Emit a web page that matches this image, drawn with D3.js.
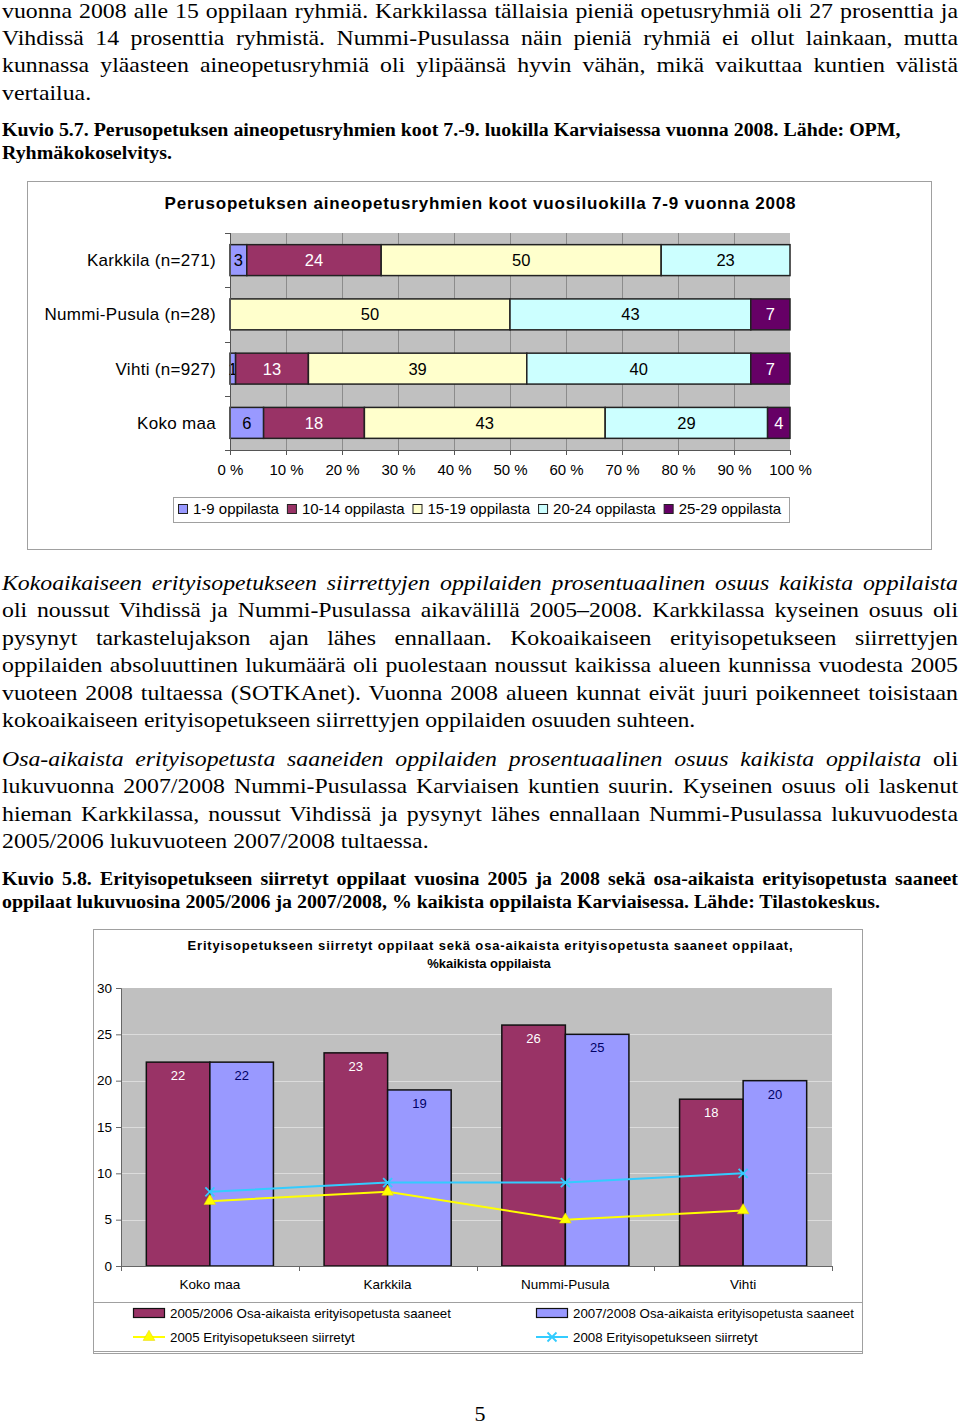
<!DOCTYPE html>
<html>
<head>
<meta charset="utf-8">
<script src="https://cdn.jsdelivr.net/npm/d3@7"></script>
<style>
  body { margin: 0; background: #fff; }
  svg { display: block; }
</style>
</head>
<body>
<div id="page"></div>
<script>
// chart 1 data: group sizes, % of groups
var cats1 = ["Karkkila (n=271)", "Nummi-Pusula (n=28)", "Vihti (n=927)", "Koko maa"];
var groups1 = ["1-9 oppilasta", "10-14 oppilasta", "15-19 oppilasta", "20-24 oppilasta", "25-29 oppilasta"];
var g1_9   = [3, 0, 1, 6];
var g10_14 = [24, 0, 13, 18];
var g15_19 = [50, 50, 39, 43];
var g20_24 = [23, 43, 40, 29];
var g25_29 = [0, 7, 7, 4];
var xTicks1 = [0, 10, 20, 30, 40, 50, 60, 70, 80, 90, 100];

// chart 2 data
var cats2 = ["Koko maa", "Karkkila", "Nummi-Pusula", "Vihti"];
var barSeries2 = ["2005/2006 Osa-aikaista erityisopetusta saaneet", "2007/2008 Osa-aikaista erityisopetusta saaneet"];
var osa0506 = [22, 23, 26, 18];
var osa0708 = [22, 19, 25, 20];
var lineSeries2 = ["2005 Erityisopetukseen siirretyt", "2008 Erityisopetukseen siirretyt"];
var siir2005 = [7, 8, 5, 6];
var siir2008 = [8, 9, 9, 10];
var yTicks2 = [0, 5, 10, 15, 20, 25, 30];

var serif = "'Liberation Serif', 'Times New Roman', serif";
var sans = "'Liberation Sans', Arial, sans-serif";

var svg = d3.select("#page").append("svg")
    .attr("width", 960)
    .attr("height", 1425);

svg.append("rect").attr("width", 960).attr("height", 1425).attr("fill", "#fff");

// justified text line helper (page text is a bit wider than plain Times)
function textLine(y, parts, opts) {
  opts = opts || {};
  var sx = opts.sx || 1.107;
  var g = svg.append("g")
      .attr("transform", "translate(2," + y + ") scale(" + sx + ",1)");
  var t = g.append("text")
      .attr("x", 0)
      .attr("y", 0)
      .attr("font-family", serif)
      .attr("font-size", opts.size || 21.5)
      .attr("font-weight", opts.bold ? "bold" : null)
      .attr("fill", "#000");
  parts.forEach(function(p) {
    t.append("tspan")
      .attr("font-style", p.italic ? "italic" : null)
      .text(p.t);
  });
  if (opts.justify) {
    var w = t.node().getComputedTextLength();
    var full = parts.map(function(p) { return p.t; }).join("");
    var n = (full.match(/ /g) || []).length;
    if (n > 0) t.attr("word-spacing", (956 / sx - w) / n);
  }
  return t;
}

function para(lines, y0, step, opts) {
  lines.forEach(function(l, i) {
    var parts = typeof l === "string" ? [{t: l}] : l;
    var o = Object.assign({}, opts, {justify: i < lines.length - 1 && !(opts && opts.noJustify)});
    textLine(y0 + i * step, parts, o);
  });
}

para([
  "vuonna 2008 alle 15 oppilaan ryhmiä. Karkkilassa tällaisia pieniä opetusryhmiä oli 27 prosenttia ja",
  "Vihdissä 14 prosenttia ryhmistä. Nummi-Pusulassa näin pieniä ryhmiä ei ollut lainkaan, mutta",
  "kunnassa yläasteen aineopetusryhmiä oli ylipäänsä hyvin vähän, mikä vaikuttaa kuntien välistä",
  "vertailua."
], 18, 27.2);

para([
  "Kuvio 5.7. Perusopetuksen aineopetusryhmien koot 7.-9. luokilla Karviaisessa vuonna 2008. Lähde: OPM,",
  "Ryhmäkokoselvitys."
], 136, 23, {size: 19, bold: true, sx: 1.047, noJustify: true});

para([
  [{t: "Kokoaikaiseen erityisopetukseen siirrettyjen oppilaiden prosentuaalinen osuus kaikista oppilaista", italic: true}],
  "oli noussut Vihdissä ja Nummi-Pusulassa aikavälillä 2005–2008. Karkkilassa kyseinen osuus oli",
  "pysynyt tarkastelujakson ajan lähes ennallaan. Kokoaikaiseen erityisopetukseen siirrettyjen",
  "oppilaiden absoluuttinen lukumäärä oli puolestaan noussut kaikissa alueen kunnissa vuodesta 2005",
  "vuoteen 2008 tultaessa (SOTKAnet). Vuonna 2008 alueen kunnat eivät juuri poikenneet toisistaan",
  "kokoaikaiseen erityisopetukseen siirrettyjen oppilaiden osuuden suhteen."
], 590, 27.4);

para([
  [{t: "Osa-aikaista erityisopetusta saaneiden oppilaiden prosentuaalinen osuus kaikista oppilaista", italic: true}, {t: " oli"}],
  "lukuvuonna 2007/2008 Nummi-Pusulassa Karviaisen kuntien suurin. Kyseinen osuus oli laskenut",
  "hieman Karkkilassa, noussut Vihdissä ja pysynyt lähes ennallaan Nummi-Pusulassa lukuvuodesta",
  "2005/2006 lukuvuoteen 2007/2008 tultaessa."
], 766, 27.4);

para([
  "Kuvio 5.8. Erityisopetukseen siirretyt oppilaat vuosina 2005 ja 2008 sekä osa-aikaista erityisopetusta saaneet",
  "oppilaat lukuvuosina 2005/2006 ja 2007/2008, % kaikista oppilaista Karviaisessa. Lähde: Tilastokeskus."
], 885, 22.5, {size: 19, bold: true, sx: 1.047});

svg.append("text")
    .attr("x", 480).attr("y", 1421)
    .attr("text-anchor", "middle")
    .attr("font-family", serif).attr("font-size", 22)
    .text("5");

// ---------------- chart 1 ----------------
var c1 = svg.append("g");

c1.append("rect")
    .attr("x", 27.5).attr("y", 181.5)
    .attr("width", 904).attr("height", 368)
    .attr("fill", "#fff").attr("stroke", "#a0a0a0");

c1.append("text")
    .attr("x", 480).attr("y", 209)
    .attr("text-anchor", "middle")
    .attr("font-family", sans).attr("font-size", 17).attr("font-weight", "bold")
    .attr("textLength", 631).attr("lengthAdjust", "spacing")
    .text("Perusopetuksen aineopetusryhmien koot vuosiluokilla 7-9 vuonna 2008");

var colors1 = ["#9999ff", "#993366", "#ffffcc", "#ccffff", "#660066"];
var textCol1 = ["#000", "#fff", "#000", "#000", "#fff"];

var rows1 = cats1.map(function(c, i) {
  return {cat: c, "1-9 oppilasta": g1_9[i], "10-14 oppilasta": g10_14[i],
          "15-19 oppilasta": g15_19[i], "20-24 oppilasta": g20_24[i], "25-29 oppilasta": g25_29[i]};
});

var x1 = d3.scaleLinear().domain([0, 100]).range([230, 790]);
var y1 = d3.scaleBand().domain(cats1).range([233, 450]).paddingInner(0.43).paddingOuter(0.215);

c1.append("rect")
    .attr("x", 230).attr("y", 233)
    .attr("width", 560).attr("height", 217)
    .attr("fill", "#c0c0c0");

c1.append("g")
    .selectAll("line")
    .data(xTicks1.slice(1, -1))
    .enter().append("line")
    .attr("x1", function(d) { return x1(d) + 0.5; })
    .attr("x2", function(d) { return x1(d) + 0.5; })
    .attr("y1", 233).attr("y2", 450)
    .attr("stroke", "#8c8c8c");

var stack1 = d3.stack().keys(groups1)(rows1);

var layer1 = c1.selectAll(".layer")
    .data(stack1)
    .enter().append("g")
    .attr("class", "layer");

layer1.selectAll("rect")
    .data(function(d) { return d.map(function(p) { return {p: p, key: d.key, idx: d.index}; }); })
    .enter().append("rect")
    .filter(function(d) { return d.p[1] - d.p[0] > 0; })
    .attr("x", function(d) { return x1(d.p[0]); })
    .attr("width", function(d) { return x1(d.p[1]) - x1(d.p[0]); })
    .attr("y", function(d) { return y1(d.p.data.cat); })
    .attr("height", y1.bandwidth())
    .attr("fill", function(d) { return colors1[d.idx]; })
    .attr("stroke", "#222")
    .attr("stroke-width", 1.5);

layer1.selectAll("text")
    .data(function(d) { return d.map(function(p) { return {p: p, key: d.key, idx: d.index}; }); })
    .enter().append("text")
    .filter(function(d) { return d.p[1] - d.p[0] > 0; })
    .attr("x", function(d) { return (x1(d.p[0]) + x1(d.p[1])) / 2; })
    .attr("y", function(d) { return y1(d.p.data.cat) + y1.bandwidth() / 2 + 6; })
    .attr("text-anchor", "middle")
    .attr("font-family", sans).attr("font-size", 16.5)
    .attr("fill", function(d) { return textCol1[d.idx]; })
    .text(function(d) { return d.p[1] - d.p[0]; });

// axes
var xAxis1 = d3.axisBottom(x1).tickValues(xTicks1).tickSize(5)
    .tickFormat(function(d) { return d + " %"; });
var ax1 = c1.append("g")
    .attr("transform", "translate(0,450)")
    .call(xAxis1);
ax1.select(".domain").attr("stroke", "#555");
ax1.selectAll(".tick line").attr("stroke", "#555");
ax1.selectAll("text")
    .attr("font-family", sans).attr("font-size", 15).attr("fill", "#000")
    .attr("dy", "1.15em");

c1.append("line")
    .attr("x1", 230.5).attr("x2", 230.5).attr("y1", 233).attr("y2", 450)
    .attr("stroke", "#555");
var yBounds1 = cats1.map(function(c) { return y1(c) - y1.step() * 0.215; }).concat([450]);
c1.append("g").selectAll("line")
    .data(yBounds1)
    .enter().append("line")
    .attr("x1", 225).attr("x2", 230)
    .attr("y1", function(d) { return Math.round(d) + 0.5; })
    .attr("y2", function(d) { return Math.round(d) + 0.5; })
    .attr("stroke", "#555");

c1.append("g").selectAll("text")
    .data(cats1)
    .enter().append("text")
    .attr("x", 216)
    .attr("y", function(d) { return y1(d) + y1.bandwidth() / 2 + 6; })
    .attr("text-anchor", "end")
    .attr("font-family", sans).attr("font-size", 17).attr("letter-spacing", 0.3)
    .text(function(d) { return d; });

// legend 1
c1.append("rect")
    .attr("x", 173.5).attr("y", 497.5)
    .attr("width", 616).attr("height", 25)
    .attr("fill", "#fff").attr("stroke", "#a0a0a0");

var lx = 178;
groups1.forEach(function(g, i) {
  c1.append("rect")
      .attr("x", lx + 0.5).attr("y", 504.5)
      .attr("width", 9).attr("height", 9)
      .attr("fill", colors1[i]).attr("stroke", "#222");
  var t = c1.append("text")
      .attr("x", lx + 15).attr("y", 514)
      .attr("font-family", sans).attr("font-size", 15)
      .text(g);
  lx = lx + 15 + t.node().getComputedTextLength() + 8;
});

// ---------------- chart 2 ----------------
var c2 = svg.append("g");

c2.append("rect")
    .attr("x", 93.5).attr("y", 929.5)
    .attr("width", 769).attr("height", 424)
    .attr("fill", "#fff").attr("stroke", "#a0a0a0");

c2.append("text")
    .attr("x", 490).attr("y", 950)
    .attr("text-anchor", "middle")
    .attr("font-family", sans).attr("font-size", 13).attr("font-weight", "bold")
    .attr("textLength", 605).attr("lengthAdjust", "spacing")
    .text("Erityisopetukseen siirretyt oppilaat sekä osa-aikaista erityisopetusta saaneet oppilaat,");
c2.append("text")
    .attr("x", 489).attr("y", 968)
    .attr("text-anchor", "middle")
    .attr("font-family", sans).attr("font-size", 13).attr("font-weight", "bold")
    .text("%kaikista oppilaista");

var x2 = d3.scaleBand().domain(cats2).range([121, 832]).paddingInner(0.285).paddingOuter(0.1425);
var xs2 = d3.scaleBand().domain(barSeries2).range([0, x2.bandwidth()]);
var y2 = d3.scaleLinear().domain([0, 30]).range([1266, 988]);

c2.append("rect")
    .attr("x", 121).attr("y", 988)
    .attr("width", 711).attr("height", 278)
    .attr("fill", "#c0c0c0");

c2.append("g").selectAll("line")
    .data(yTicks2.slice(1, -1))
    .enter().append("line")
    .attr("x1", 121).attr("x2", 832)
    .attr("y1", function(d) { return Math.round(y2(d)) + 0.5; })
    .attr("y2", function(d) { return Math.round(y2(d)) + 0.5; })
    .attr("stroke", "#dcdcdc");

var rows2 = cats2.map(function(c, i) {
  return {cat: c, vals: [osa0506[i], osa0708[i]]};
});
var barCol2 = ["#993366", "#9999ff"];
var barText2 = ["#fff", "#000066"];

var grp2 = c2.selectAll(".grp")
    .data(rows2)
    .enter().append("g")
    .attr("class", "grp")
    .attr("transform", function(d) { return "translate(" + x2(d.cat) + ",0)"; });

grp2.selectAll("rect")
    .data(function(d) { return d.vals.map(function(v, j) { return {v: v, s: barSeries2[j], j: j}; }); })
    .enter().append("rect")
    .attr("x", function(d) { return xs2(d.s); })
    .attr("width", xs2.bandwidth())
    .attr("y", function(d) { return y2(d.v); })
    .attr("height", function(d) { return y2(0) - y2(d.v); })
    .attr("fill", function(d) { return barCol2[d.j]; })
    .attr("stroke", "#111")
    .attr("stroke-width", 1.5);

grp2.selectAll("text")
    .data(function(d) { return d.vals.map(function(v, j) { return {v: v, s: barSeries2[j], j: j}; }); })
    .enter().append("text")
    .attr("x", function(d) { return xs2(d.s) + xs2.bandwidth() / 2; })
    .attr("y", function(d) { return y2(d.v) + 18; })
    .attr("text-anchor", "middle")
    .attr("font-family", sans).attr("font-size", 13)
    .attr("fill", function(d) { return barText2[d.j]; })
    .text(function(d) { return d.v; });

// lines
var cx2 = function(c) { return x2(c) + x2.bandwidth() / 2; };
var lineCol2 = ["#ffff00", "#33ccff"];
var lineData2 = [siir2005, siir2008];
var line2 = d3.line()
    .x(function(d, i) { return cx2(cats2[i]); })
    .y(function(d) { return y2(d); });

lineData2.forEach(function(vals, k) {
  c2.append("path")
      .datum(vals)
      .attr("d", line2)
      .attr("fill", "none")
      .attr("stroke", lineCol2[k])
      .attr("stroke-width", 2);
});

var tri = d3.symbol().type(d3.symbolTriangle).size(60);
function xMark(x, y, s) {
  return "M" + (x - s) + "," + (y - s) + "L" + (x + s) + "," + (y + s) +
         "M" + (x - s) + "," + (y + s) + "L" + (x + s) + "," + (y - s);
}

c2.append("g").selectAll("path")
    .data(siir2005)
    .enter().append("path")
    .attr("d", tri)
    .attr("transform", function(d, i) { return "translate(" + cx2(cats2[i]) + "," + y2(d) + ")"; })
    .attr("fill", "#ffff00")
    .attr("stroke", "#e6d000")
    .attr("stroke-width", 0.5);

c2.append("g").selectAll("path")
    .data(siir2008)
    .enter().append("path")
    .attr("d", function(d, i) { return xMark(cx2(cats2[i]), y2(d), 4.5); })
    .attr("fill", "none")
    .attr("stroke", "#33ccff")
    .attr("stroke-width", 1.8);

// axes 2
var yAxis2 = d3.axisLeft(y2).tickValues(yTicks2).tickSize(5).tickPadding(4);
var ay2 = c2.append("g")
    .attr("transform", "translate(121,0)")
    .call(yAxis2);
ay2.select(".domain").attr("stroke", "#666");
ay2.selectAll(".tick line").attr("stroke", "#666");
ay2.selectAll("text").attr("font-family", sans).attr("font-size", 13.5).attr("fill", "#000");

c2.append("line")
    .attr("x1", 121).attr("x2", 832)
    .attr("y1", 1266.5).attr("y2", 1266.5)
    .attr("stroke", "#666");
var xBounds2 = cats2.map(function(c) { return x2(c) - x2.step() * 0.1425; }).concat([832]);
c2.append("g").selectAll("line")
    .data(xBounds2)
    .enter().append("line")
    .attr("x1", function(d) { return Math.round(d) + 0.5; })
    .attr("x2", function(d) { return Math.round(d) + 0.5; })
    .attr("y1", 1266).attr("y2", 1271)
    .attr("stroke", "#666");

c2.append("g").selectAll("text")
    .data(cats2)
    .enter().append("text")
    .attr("x", function(d) { return cx2(d); })
    .attr("y", 1289)
    .attr("text-anchor", "middle")
    .attr("font-family", sans).attr("font-size", 13.5)
    .text(function(d) { return d; });

// legend 2
c2.append("rect")
    .attr("x", 93.5).attr("y", 1302.5)
    .attr("width", 769).attr("height", 49)
    .attr("fill", "#fff").attr("stroke", "#a0a0a0");

var legX2 = [133, 536];
barSeries2.forEach(function(s, i) {
  c2.append("rect")
      .attr("x", legX2[i] + 0.5).attr("y", 1308.5)
      .attr("width", 31).attr("height", 9)
      .attr("fill", barCol2[i]).attr("stroke", "#111").attr("stroke-width", 1.2);
  c2.append("text")
      .attr("x", legX2[i] + 37).attr("y", 1318)
      .attr("font-family", sans).attr("font-size", 13.3)
      .text(s);
});
lineSeries2.forEach(function(s, i) {
  var lxx = legX2[i];
  c2.append("line")
      .attr("x1", lxx).attr("x2", lxx + 32)
      .attr("y1", 1337).attr("y2", 1337)
      .attr("stroke", lineCol2[i]).attr("stroke-width", 2);
  if (i === 0) {
    c2.append("path")
        .attr("d", tri)
        .attr("transform", "translate(" + (lxx + 16) + ",1337)")
        .attr("fill", "#ffff00").attr("stroke", "#e6d000").attr("stroke-width", 0.5);
  } else {
    c2.append("path")
        .attr("d", xMark(lxx + 16, 1337, 4.5))
        .attr("stroke", "#33ccff").attr("stroke-width", 1.8);
  }
  c2.append("text")
      .attr("x", lxx + 37).attr("y", 1342)
      .attr("font-family", sans).attr("font-size", 13.3)
      .text(s);
});
</script>
</body>
</html>
